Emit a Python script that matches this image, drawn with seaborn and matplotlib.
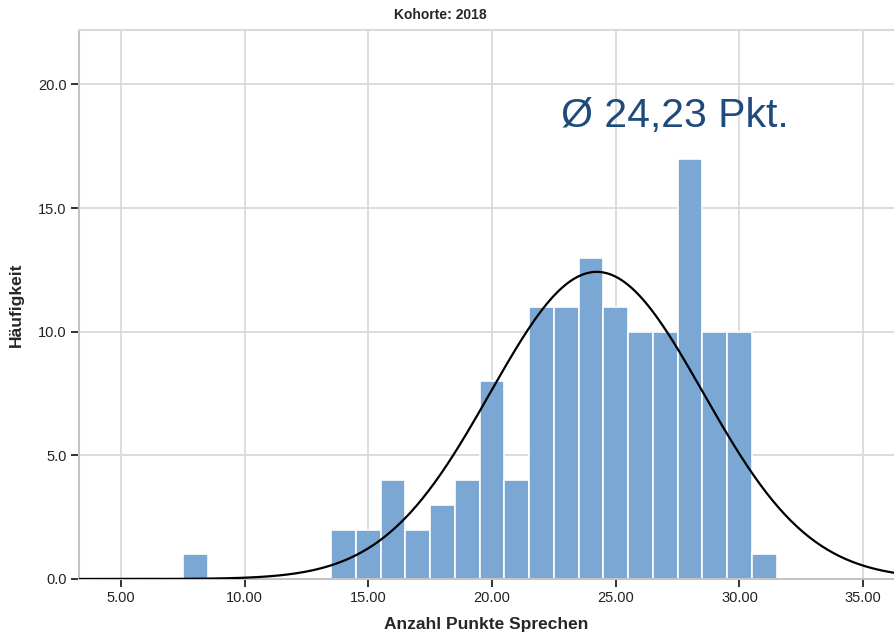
import numpy as np
import pandas as pd
import matplotlib
matplotlib.use("Agg")
import matplotlib.pyplot as plt
import seaborn as sns

# === Data ===
scores = [8, 14, 15, 16, 17, 18, 19, 20, 21, 22, 23, 24, 25, 26, 27, 28, 29, 30, 31]
counts = [1, 2, 2, 4, 2, 3, 4, 8, 4, 11, 11, 13, 11, 10, 10, 17, 10, 10, 1]
x_ticks = [5, 10, 15, 20, 25, 30, 35]
y_ticks = [0, 5, 10, 15, 20]
title = "Kohorte: 2018"
mean_label = "Ø 24,23 Pkt."

df = pd.DataFrame({"punkte": np.repeat(scores, counts)})

# === Style ===
sns.set_style("white")
plt.rcParams["font.family"] = ["Liberation Sans", "DejaVu Sans"]

fig = plt.figure(figsize=(8.94, 6.42), dpi=100)
ax = fig.add_axes([79 / 894, 63 / 642, 1 - 79 / 894, (579 - 30) / 642])

grid_col = "#DADADA"
for xt in x_ticks:
    ax.axvline(xt, color=grid_col, lw=1.3, zorder=0)
for yt in y_ticks[1:]:
    ax.axhline(yt, color=grid_col, lw=1.3, zorder=0)

# === Histogram ===
sns.histplot(data=df, x="punkte", discrete=True, color="#7BA7D4", alpha=1,
             edgecolor="white", linewidth=1.2, ax=ax, zorder=2)

# empty bins shown as flat line at the left
ax.hlines(0, 3.3, 6.5, color="#C8C8C8", lw=2.5, zorder=1)

# === Normal curve ===
mu = df["punkte"].mean()
sd = df["punkte"].std()
n = len(df)
xs = np.linspace(3.3, 36.3, 400)
ys = n / (sd * np.sqrt(2 * np.pi)) * np.exp(-0.5 * ((xs - mu) / sd) ** 2)
sns.lineplot(x=xs, y=ys, color="black", lw=1.6, ax=ax, zorder=3)

# === Axes ===
ax.set_xlim(3.3, 36.25)
ax.set_ylim(0, 22.2)
ax.set_xticks(x_ticks)
ax.set_xticklabels([f"{v:.2f}" for v in x_ticks], fontsize=10.5, color="#222222")
ax.set_yticks(y_ticks)
ax.set_yticklabels([f"{v:.1f}" for v in y_ticks], fontsize=10.5, color="#222222")
ax.tick_params(axis="both", direction="out", length=6, width=1.3, color="#222222",
               bottom=True, left=True, pad=3)
ax.grid(False)

for side in ["left", "bottom", "top"]:
    ax.spines[side].set_color("#C4C4C4")
    ax.spines[side].set_linewidth(1.5)
ax.spines["top"].set_color("#DADADA")
ax.spines["right"].set_visible(False)

ax.set_xlabel("Anzahl Punkte Sprechen", fontsize=12.5, fontweight="bold", labelpad=8)
ax.set_ylabel("Häufigkeit", fontsize=12.5, fontweight="bold", labelpad=10)

fig.text(440 / 894, 1 - 15 / 642, title, ha="center", va="center",
         fontsize=10, fontweight="bold")
ax.text(561 / 894, 1 - 116 / 642, mean_label, transform=fig.transFigure,
        ha="left", va="center", fontsize=29.5, color="#1F4A7C")

fig.savefig("out.png", dpi=100)
